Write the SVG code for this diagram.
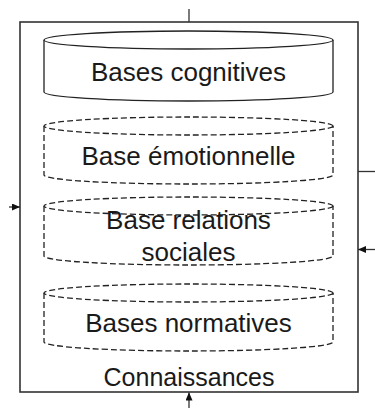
<svg xmlns="http://www.w3.org/2000/svg" width="375" height="408" viewBox="0 0 375 408">
<style>
.outer{fill:#fff;stroke:#333;stroke-width:1.6}
.cyl{fill:#fff;stroke:#222;stroke-width:1.3}
.dash{stroke-dasharray:6 3}
.lbl{font-family:"Liberation Sans",Arial,Helvetica,sans-serif;font-size:26px;fill:#1a1a1a;text-anchor:middle}
.con{fill:none;stroke:#333;stroke-width:1.3}
</style>
<defs>
<marker id="ah" markerUnits="userSpaceOnUse" markerWidth="9" markerHeight="8" refX="8" refY="3.5" orient="auto">
<path d="M0,0 L8,3.5 L0,7 z" fill="#111"/>
</marker>
</defs>
<g id="connaissances">
<rect class="outer" x="20" y="22" width="338" height="370"/>
<text class="lbl" x="189" y="386" style="font-size:25px">Connaissances</text>
</g>
<g id="bases-cognitives">
<path class="cyl" d="M44,40 L44,92 A144.5,9 0 0 0 333,92 L333,40"/>
<ellipse class="cyl" cx="188.5" cy="40" rx="144.5" ry="9"/>
<text class="lbl" x="188.5" y="80.5">Bases cognitives</text>
</g>
<g id="base-emotionnelle">
<path class="cyl dash" d="M44,126 L44,175 A144.5,9 0 0 0 333,175 L333,126"/>
<ellipse class="cyl dash" cx="188.5" cy="126" rx="144.5" ry="9"/>
<text class="lbl" x="188.5" y="165">Base émotionnelle</text>
</g>
<g id="base-relations-sociales">
<path class="cyl dash" d="M44,206 L44,256 A144.5,9 0 0 0 333,256 L333,206"/>
<ellipse class="cyl dash" cx="188.5" cy="206" rx="144.5" ry="9"/>
<text class="lbl" x="188.5" y="228.5">Base relations</text>
<text class="lbl" x="188.5" y="261">sociales</text>
</g>
<g id="bases-normatives">
<path class="cyl dash" d="M44,293 L44,342 A144.5,9 0 0 0 333,342 L333,293"/>
<ellipse class="cyl dash" cx="188.5" cy="293" rx="144.5" ry="9"/>
<text class="lbl" x="188.5" y="332">Bases normatives</text>
</g>
<g id="connectors">
<path class="con" d="M189,9 L189,22" stroke="#777"/>
<path class="con" d="M358,171.5 L375,171.5"/>
<path class="con" d="M9,207 L20,207" marker-end="url(#ah)"/>
<path class="con" d="M375,249.5 L358,249.5" marker-end="url(#ah)"/>
<path class="con" d="M189,408 L189,392.5" marker-end="url(#ah)"/>
</g>
</svg>
